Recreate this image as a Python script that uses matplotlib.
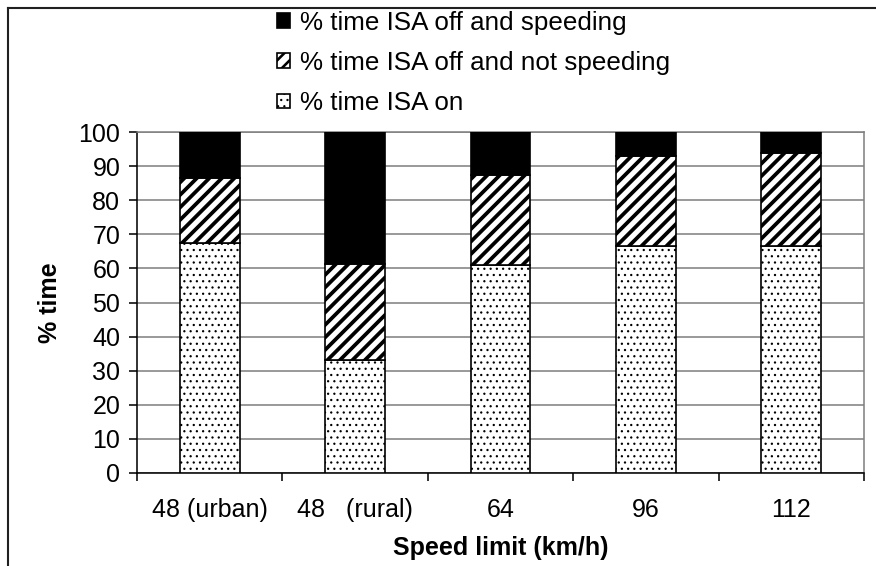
import numpy as np
import matplotlib.pyplot as plt
from matplotlib.lines import Line2D

# datos
categorias = ['48 (urban)', '48   (rural)', '64', '96', '112']
isa_on = [67.4, 33.0, 61.0, 66.5, 66.5]
off_no_exceso = [19.1, 28.3, 26.5, 26.5, 27.3]
off_exceso = [13.5, 38.7, 12.5, 7.0, 6.2]

plt.rcParams['font.family'] = ['Liberation Sans', 'DejaVu Sans']
plt.rcParams['font.size'] = 24

fig = plt.figure(figsize=(876 / 75, 566 / 75), dpi=75)
ax = fig.add_axes([137 / 876, 93 / 566, 727 / 876, 341 / 566])

x = np.arange(len(categorias))
ancho = 0.41
abajo2 = np.array(isa_on) + np.array(off_no_exceso)

b1 = ax.bar(x, isa_on, ancho, color='white', edgecolor='black', hatch='..',
            linewidth=1.6, label='% time ISA on', zorder=3)
b2 = ax.bar(x, off_no_exceso, ancho, bottom=isa_on, color='white', edgecolor='black',
            hatch='//', linewidth=1.6, label='% time ISA off and not speeding', zorder=3)
b3 = ax.bar(x, off_exceso, ancho, bottom=abajo2, color='black', edgecolor='black',
            linewidth=1.6, label='% time ISA off and speeding', zorder=3)

for p in b1:
    if hasattr(p, 'set_hatch_linewidth'):
        p.set_hatch_linewidth(1.0)
for p in b2:
    if hasattr(p, 'set_hatch_linewidth'):
        p.set_hatch_linewidth(3.6)

ax.set_xlim(-0.5, len(categorias) - 0.5)
ax.set_ylim(0, 100)
ax.set_yticks(range(0, 101, 10))
ax.yaxis.grid(True, color='#808080', linewidth=1.5)
ax.set_axisbelow(True)

ax.set_xticks(x)
ax.set_xticklabels(categorias)
ax.set_xticks(np.arange(-0.5, len(categorias)), minor=True)
ax.tick_params(axis='x', which='major', length=0, pad=24)
ax.tick_params(axis='x', which='minor', length=8, width=1.5, direction='out')
ax.tick_params(axis='y', length=8, width=1.5, direction='out', pad=8)

for s in ['top', 'right']:
    ax.spines[s].set_color('#808080')
    ax.spines[s].set_linewidth(1.5)
for s in ['left', 'bottom']:
    ax.spines[s].set_linewidth(1.5)

ax.set_xlabel('Speed limit (km/h)', fontweight='bold', labelpad=13)
ax.set_ylabel('% time', fontweight='bold', labelpad=16)

ley = fig.legend(handles=[b3, b2, b1], loc='upper left',
                 bbox_to_anchor=(277 / 876, 1 - 11 / 566), frameon=False,
                 borderpad=0, borderaxespad=0, handlelength=0.5, handleheight=0.5,
                 handletextpad=0.4, labelspacing=0.62, fontsize=25)
hs = ley.legend_handles
if hasattr(hs[1], 'set_hatch_linewidth'):
    hs[1].set_hatch_linewidth(2.5)

# marco exterior
fig.add_artist(Line2D([8 / 876, 1], [1 - 8 / 566, 1 - 8 / 566], color='#202020',
                      linewidth=2, transform=fig.transFigure))
fig.add_artist(Line2D([8 / 876, 8 / 876], [0, 1 - 8 / 566], color='#202020',
                      linewidth=2, transform=fig.transFigure))

plt.savefig('out.png', dpi=75)
